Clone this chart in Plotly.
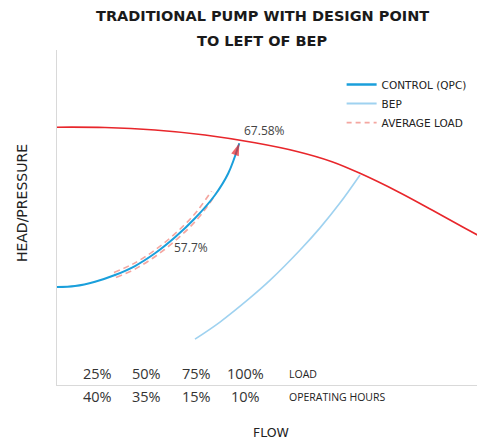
import plotly.graph_objects as go

# Pump curve (red)
pump_x = [0, 11.21, 22.90, 34.58, 46.26, 56.31, 64.25, 70.79, 79.67, 87.62, 95.33, 100]
pump_y = [76.96, 76.87, 76.12, 74.63, 72.30, 69.64, 66.66, 63.19, 57.70, 52.24, 46.78, 43.58]

# Control (QPC) curve
ctrl_x = [0, 4.21, 8.88, 13.55, 18.22, 22.9, 27.57, 32.24, 36.92, 40.02, 42.59]
ctrl_y = [29.25, 29.55, 30.84, 32.84, 35.52, 39.31, 44.09, 49.76, 56.72, 63.19, 72.15]

# BEP curve
bep_x = [32.24, 38.08, 45.1, 49.8, 56.8, 61.45, 66.1, 70.8]
bep_y = [13.7, 18.8, 26.0, 31.3, 40.3, 46.9, 54.3, 62.7]

# Average load band
avg_x = [13.55, 18.22, 22.9, 27.57, 32.24, 36.6]
avg_y = [32.84, 35.52, 39.31, 44.09, 49.9, 57.4]

load_labels = ["25%", "50%", "75%", "100%"]
hours_labels = ["40%", "35%", "15%", "10%"]
label_pos = [0.0946, 0.210, 0.325, 0.440]

RED = "#e8262b"
BLUE = "#1a9fdb"
LIGHT = "#9fd2f0"
PINK = "#f4a6a0"
FONT = "Open Sans"

fig = go.Figure()

fig.add_trace(go.Scatter(x=pump_x, y=pump_y, mode="lines", line=dict(color=RED, width=1.6, shape="spline"),
                         showlegend=False))
fig.add_trace(go.Scatter(x=bep_x, y=bep_y, mode="lines", line=dict(color=LIGHT, width=1.6, shape="spline"),
                         showlegend=False))
fig.add_trace(go.Scatter(x=avg_x, y=avg_y, mode="lines", line=dict(color=PINK, width=7, dash="6px,4px", shape="spline"),
                         showlegend=False))
fig.add_trace(go.Scatter(x=avg_x, y=avg_y, mode="lines", line=dict(color="white", width=3.8, shape="spline"),
                         showlegend=False))
sizes = [0] * (len(ctrl_x) - 1) + [13]
fig.add_trace(go.Scatter(x=ctrl_x, y=ctrl_y, mode="lines+markers", line=dict(color=BLUE, width=2, shape="spline"),
                         marker=dict(symbol="arrow", angleref="previous", size=sizes, color=RED, line=dict(width=0)),
                         showlegend=False))

# legend-only traces
fig.add_trace(go.Scatter(x=[None], y=[None], mode="lines", name="CONTROL (QPC)", line=dict(color=BLUE, width=2.5)))
fig.add_trace(go.Scatter(x=[None], y=[None], mode="lines", name="BEP", line=dict(color=LIGHT, width=2)))
fig.add_trace(go.Scatter(x=[None], y=[None], mode="lines", name="AVERAGE LOAD", line=dict(color=PINK, width=1.8, dash="5px,4px")))

def A(**kw):
    d = dict(xref="paper", yref="paper", showarrow=False, xanchor="center", yanchor="middle")
    d.update(kw)
    return d

ann = []
ann.append(A(x=0.479, y=1.1015, text="<b>TRADITIONAL PUMP WITH DESIGN POINT</b>",
             font=dict(family="DejaVu Sans", size=14.5, color="#1a1a1a")))
ann.append(A(x=0.479, y=1.027, text="<b>TO LEFT OF BEP</b>",
             font=dict(family="DejaVu Sans", size=14.5, color="#1a1a1a")))
for p, t in zip(label_pos, load_labels):
    ann.append(A(x=p, y=0.0358, text=t, font=dict(family=FONT, size=14.5, color="#333")))
for p, t in zip(label_pos, hours_labels):
    ann.append(A(x=p, y=-0.0358, text=t, font=dict(family=FONT, size=14.5, color="#333")))
ann.append(A(x=0.538, y=0.034, text="LOAD", xanchor="left", font=dict(family=FONT, size=10.5, color="#222")))
ann.append(A(x=0.538, y=-0.035, text="OPERATING HOURS", xanchor="left", font=dict(family=FONT, size=10.5, color="#222")))
ann.append(A(x=0.501, y=-0.143, text="FLOW", font=dict(family="DejaVu Sans", size=12.5, color="#222")))
ann.append(A(x=-0.0818, y=0.543, text="HEAD/PRESSURE", textangle=-90,
             font=dict(family="DejaVu Sans", size=14, color="#222")))
ann.append(dict(x=48.4, y=76.1, text="67.58%", showarrow=False, xanchor="center", yanchor="middle",
                font=dict(family=FONT, size=12, color="#444")))
ann.append(dict(x=31.3, y=40.9, text="57.7%", showarrow=False, xanchor="center", yanchor="middle",
                font=dict(family=FONT, size=12, color="#444")))

fig.update_layout(
    width=477, height=432,
    margin=dict(l=49, r=0, t=42, b=55),
    plot_bgcolor="white", paper_bgcolor="white",
    hovermode=False,
    annotations=ann,
    legend=dict(x=0.665, y=0.94, xanchor="left", yanchor="top", bgcolor="rgba(0,0,0,0)",
                font=dict(family="DejaVu Sans", size=10.5, color="#222"), tracegroupgap=0,
                itemwidth=30),
    xaxis=dict(range=[0, 100], showgrid=False, zeroline=False, showticklabels=False, ticks="",
               showline=True, linecolor="#d9d9d9", linewidth=1.3),
    yaxis=dict(range=[0, 100], showgrid=False, zeroline=False, showticklabels=False, ticks="",
               showline=True, linecolor="#d9d9d9", linewidth=1.3),
)

fig.write_html("out.html")
